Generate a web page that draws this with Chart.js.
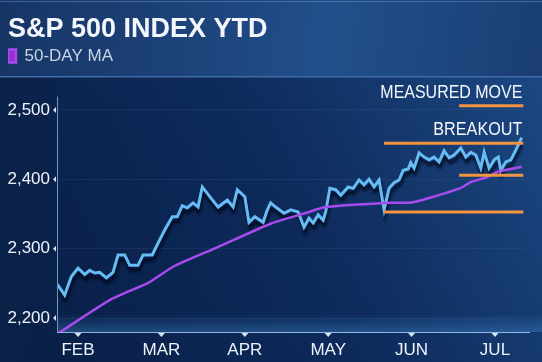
<!DOCTYPE html>
<html>
<head>
<meta charset="utf-8">
<title>S&amp;P 500 Index YTD</title>
<script src="https://cdn.jsdelivr.net/npm/chart.js@4.4.1/dist/chart.umd.min.js"></script>
<style>
  html, body { margin: 0; padding: 0; background: #0b2250; overflow: hidden; }
  #spx { display: block; }
</style>
</head>
<body>
<canvas id="spx" width="542" height="362"></canvas>
<script>
// month ticks (x = month index, FEB = 1)
const months = ['FEB', 'MAR', 'APR', 'MAY', 'JUN', 'JUL'];
const yTicks = [2200, 2300, 2400, 2500];

// S&P 500 closes, x in months
const spxPos = [0.75, 0.84, 0.92, 1.00, 1.08, 1.14, 1.20, 1.26, 1.34, 1.42, 1.48, 1.56, 1.62, 1.72, 1.78, 1.89,
  1.96, 2.04, 2.13, 2.19, 2.25, 2.31, 2.38, 2.44, 2.49, 2.58, 2.68, 2.79, 2.86, 2.91, 3.00, 3.05, 3.12, 3.22,
  3.27, 3.31, 3.37, 3.47, 3.55, 3.64, 3.71, 3.77, 3.82, 3.88, 3.94, 3.97, 4.02, 4.09, 4.15, 4.24, 4.30, 4.37,
  4.43, 4.49, 4.55, 4.61, 4.67, 4.73, 4.79, 4.85, 4.90, 4.96, 4.99, 5.03, 5.09, 5.15, 5.21, 5.27, 5.33, 5.39,
  5.45, 5.51, 5.59, 5.65, 5.71, 5.77, 5.83, 5.87, 5.93, 5.99, 6.04, 6.07, 6.13, 6.19, 6.25, 6.29, 6.32];
const spxClose = [2249, 2233, 2260, 2272, 2263, 2269, 2265, 2266, 2258, 2266, 2291, 2291, 2276, 2276, 2291, 2291,
  2308, 2327, 2346, 2346, 2362, 2359, 2366, 2360, 2389, 2375, 2360, 2370, 2360, 2385, 2375, 2338, 2346, 2338,
  2356, 2366, 2360, 2351, 2356, 2353, 2331, 2344, 2337, 2349, 2341, 2353, 2387, 2385, 2377, 2389, 2387, 2399,
  2392, 2400, 2389, 2399, 2356, 2387, 2395, 2399, 2413, 2415, 2424, 2416, 2438, 2432, 2428, 2432, 2425, 2441,
  2431, 2435, 2445, 2432, 2439, 2435, 2416, 2439, 2416, 2428, 2432, 2413, 2425, 2428, 2442, 2452, 2460];

// 50-day moving average
const maPos = [0.75, 1.38, 1.86, 2.14, 2.67, 3.31, 3.72, 3.97, 4.67, 5.02, 5.58, 5.71, 5.90, 6.04, 6.32];
const maValue = [2177, 2226, 2252, 2274, 2302, 2336, 2351, 2360, 2366, 2367, 2387, 2396, 2403, 2411, 2418];

// orange levels
const levelValue = [2506, 2452, 2406, 2353];
const levelStart = [5.57, 4.67, 5.57, 4.67];
const levelEnd = 6.34;
const levelLabel = ['MEASURED MOVE', 'BREAKOUT'];
const labelWidth = [142, 89];

const FONT = "'Liberation Sans', Arial, sans-serif";

const backdrop = {
  id: 'backdrop',
  beforeDraw(chart) {
    const ctx = chart.ctx;
    const w = chart.width, h = chart.height;
    ctx.save();
    let g = ctx.createLinearGradient(0, h, w, 70);
    g.addColorStop(0, '#081d44');
    g.addColorStop(0.55, '#0e2b5c');
    g.addColorStop(1, '#1c4883');
    ctx.fillStyle = g;
    ctx.fillRect(0, 0, w, h);
    // left strip behind y labels
    g = ctx.createLinearGradient(0, 0, 57, 0);
    g.addColorStop(0, '#0a2148');
    g.addColorStop(1, 'rgba(10,33,72,0.4)');
    ctx.fillStyle = g;
    ctx.fillRect(0, 77, 57, h - 77);
    // header band
    g = ctx.createLinearGradient(0, 0, w, 76);
    g.addColorStop(0, '#163565');
    g.addColorStop(0.45, '#1f4780');
    g.addColorStop(0.6, '#21508a');
    g.addColorStop(1, '#1a3e74');
    ctx.fillStyle = g;
    ctx.fillRect(0, 0, w, 76);
    ctx.fillStyle = '#3f6ca6';
    ctx.fillRect(0, 76, w, 1.5);
    ctx.fillStyle = 'rgba(90,130,185,0.6)';
    ctx.fillRect(0, 1, w, 1);
    // glow along the base of the plot
    const a = chart.chartArea;
    g = ctx.createLinearGradient(0, a.bottom - 18, 0, a.bottom);
    g.addColorStop(0, 'rgba(60,140,210,0)');
    g.addColorStop(1, 'rgba(70,150,220,0.35)');
    ctx.fillStyle = g;
    ctx.fillRect(a.left, a.bottom - 18, w - a.left, 18);
    ctx.restore();
  }
};

const lineShadow = {
  id: 'lineShadow',
  beforeDatasetDraw(chart, args) {
    if (args.index !== 1) return;
    const ctx = chart.ctx;
    ctx.save();
    ctx.shadowColor = 'rgba(0,6,25,0.85)';
    ctx.shadowOffsetX = 1;
    ctx.shadowOffsetY = 5;
    ctx.shadowBlur = 3;
  },
  afterDatasetDraw(chart, args) {
    if (args.index !== 1) return;
    chart.ctx.restore();
  }
};

const axisMarks = {
  id: 'axisMarks',
  afterDraw(chart) {
    const ctx = chart.ctx;
    const x = chart.scales.x, y = chart.scales.y;
    const a = chart.chartArea;
    ctx.save();
    // axis lines
    ctx.strokeStyle = '#6f95c6';
    ctx.lineWidth = 1;
    ctx.beginPath();
    ctx.moveTo(a.left + 0.5, y.getPixelForValue(2519));
    ctx.lineTo(a.left + 0.5, a.bottom);
    ctx.stroke();
    ctx.strokeStyle = '#8fb6e0';
    ctx.beginPath();
    ctx.moveTo(a.left, a.bottom + 0.5);
    ctx.lineTo(chart.width - 12, a.bottom + 0.5);
    ctx.stroke();
    // small pointers
    ctx.fillStyle = '#d6e4f5';
    yTicks.forEach(v => {
      const py = y.getPixelForValue(v);
      ctx.beginPath();
      ctx.moveTo(a.left - 4, py);
      ctx.lineTo(a.left - 1, py - 3);
      ctx.lineTo(a.left - 1, py + 3);
      ctx.closePath();
      ctx.fill();
    });
    months.forEach((m, i) => {
      const px = x.getPixelForValue(i + 1);
      ctx.beginPath();
      ctx.moveTo(px - 3.5, a.bottom + 1);
      ctx.lineTo(px + 3.5, a.bottom + 1);
      ctx.lineTo(px, a.bottom + 5);
      ctx.closePath();
      ctx.fill();
    });
    // level captions, squeezed to the condensed look
    ctx.fillStyle = '#f4f7fb';
    ctx.textAlign = 'left';
    ctx.textBaseline = 'alphabetic';
    ctx.font = '18px ' + FONT;
    const rx = x.getPixelForValue(levelEnd) - 1;
    levelLabel.forEach((txt, i) => {
      const w = ctx.measureText(txt).width;
      const k = Math.min(1, labelWidth[i] / w);
      ctx.save();
      ctx.translate(rx - w * k, y.getPixelForValue(levelValue[i]) - 8);
      ctx.scale(k, 1);
      ctx.fillText(txt, 0, 0);
      ctx.restore();
    });
    ctx.restore();
  }
};

const levelSets = levelValue.map((v, i) => ({
  label: 'level' + i,
  data: [{ x: levelStart[i], y: v }, { x: levelEnd, y: v }],
  borderColor: '#f39440',
  borderWidth: 3,
  pointRadius: 0,
  order: 0
}));

new Chart(document.getElementById('spx'), {
  type: 'line',
  data: {
    datasets: [
      {
        label: '50-DAY MA',
        data: maPos.map((p, i) => ({ x: p, y: maValue[i] })),
        borderColor: '#a74aee',
        backgroundColor: '#9a30cf',
        borderWidth: 2.5,
        pointRadius: 0,
        tension: 0.2,
        order: 1
      },
      {
        label: 'S&P 500',
        data: spxPos.map((p, i) => ({ x: p, y: spxClose[i] })),
        borderColor: '#66bcf4',
        borderWidth: 3,
        pointRadius: 0,
        tension: 0,
        order: 2
      },
      ...levelSets
    ]
  },
  options: {
    responsive: false,
    animation: false,
    layout: { padding: { left: 8, right: 18, top: 0, bottom: 0 } },
    scales: {
      x: {
        type: 'linear',
        min: 0.748,
        max: 6.348,
        afterBuildTicks: s => { s.ticks = months.map((m, i) => ({ value: i + 1 })); },
        afterFit: s => { s.height = 30; },
        border: { display: false },
        grid: { display: false, drawTicks: false },
        ticks: {
          autoSkip: false,
          maxRotation: 0,
          padding: 8,
          color: '#eef3fa',
          font: { family: FONT, size: 17 },
          callback: v => months[v - 1]
        }
      },
      y: {
        min: 2180,
        max: 2551,
        afterBuildTicks: s => { s.ticks = yTicks.map(v => ({ value: v })); },
        afterFit: s => { s.width = 49; },
        border: { display: false },
        grid: { color: 'rgba(120,160,220,0.10)', drawTicks: false },
        ticks: {
          padding: 7,
          color: '#eef3fa',
          font: { family: FONT, size: 17 },
          callback: v => String(v).replace(/\B(?=(\d{3})+(?!\d))/g, ',')
        }
      }
    },
    plugins: {
      title: {
        display: true,
        text: 'S&P 500 INDEX YTD',
        align: 'start',
        color: '#f3f6fb',
        font: { family: FONT, size: 27, weight: 'bold', lineHeight: 1 },
        padding: { top: 16, bottom: 4.5 }
      },
      legend: {
        position: 'top',
        align: 'start',
        labels: {
          filter: item => item.text === '50-DAY MA',
          boxWidth: 8,
          boxHeight: 13,
          padding: 0,
          color: '#c9d3e6',
          font: { family: FONT, size: 17 }
        }
      },
      tooltip: { enabled: false }
    }
  },
  plugins: [backdrop, lineShadow, axisMarks]
});
</script>
</body>
</html>
